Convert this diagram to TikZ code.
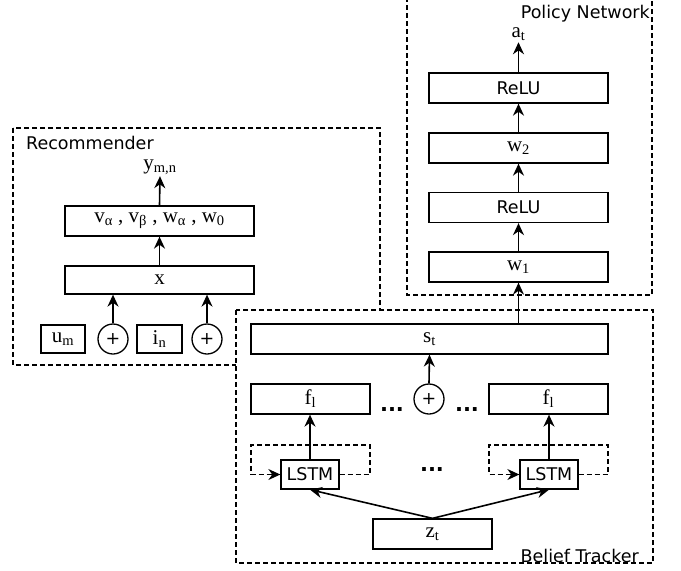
\documentclass[tikz,border=0pt]{standalone}
\usepackage{fontspec}
\setmainfont{DejaVu Sans}
\newfontfamily\sr{Liberation Serif}
\usetikzlibrary{arrows.meta}
\newcommand{\sz}{\fontsize{17.5}{20}\selectfont}
\newcommand{\ssz}{\fontsize{21}{24}\selectfont\sr}
\newcommand{\sbs}[1]{\textsubscript{\fontsize{14.5}{16}\selectfont #1}}
\begin{document}
\begin{tikzpicture}[x=1pt,y=-1pt,
  blk/.style={draw, line width=1.3pt, rectangle, inner sep=0pt, minimum height=30pt, font=\sz},
  circ/.style={draw, line width=1.3pt, circle, inner sep=0pt, minimum size=30pt, font=\sz},
  cont/.style={draw, dashed, dash pattern=on 5pt off 3pt, line width=1.1pt},
  arr/.style={line width=1.6pt, -{Stealth[length=12pt,width=11pt]}},
  lbl/.style={inner sep=1.5pt, font=\ssz},
  ttl/.style={inner sep=0pt, font=\sz},
  dots/.style={inner sep=0pt, font=\fontsize{21}{24}\selectfont\bfseries}]
\useasboundingbox (0,0) rectangle (681,571);
% ---- Policy Network
\draw[cont] (407,-3) rectangle (652,295);
\node[ttl, anchor=base east] (pnl) at (650,18) {Policy Network};
\node[blk, minimum width=179pt] (relu2) at (518.5,88) {ReLU};
\node[blk, minimum width=179pt, font=\ssz] (w2) at (518.5,148) {w\sbs{2}};
\node[blk, minimum width=179pt] (relu1) at (518.5,207.5) {ReLU};
\node[blk, minimum width=179pt, font=\ssz] (w1) at (518.5,267) {w\sbs{1}};
\node[lbl] (at) at (518.5,34) {a\sbs{t}};
\draw[arr] (relu2.north) -- (at.south);
\draw[arr] (w2.north) -- (relu2.south);
\draw[arr] (relu1.north) -- (w2.south);
\draw[arr] (w1.north) -- (relu1.south);
% ---- Recommender
\draw[cont] (13,128) rectangle (380,365);
\node[ttl, anchor=base west] (rl) at (26,149) {Recommender};
\node[blk, minimum width=189pt, font=\ssz] (v) at (159.5,221) {v\sbs{α} , v\sbs{β} , w\sbs{α} , w\sbs{0}};
\node[blk, minimum width=189pt, minimum height=28pt, font=\ssz] (x) at (159.5,280) {x};
\node[lbl] (ymn) at (160,167) {y\sbs{m,n}};
\draw[arr] (v.north) -- (ymn.south);
\draw[arr] (x.north) -- (v.south);
\node[blk, minimum width=44pt, minimum height=28pt, font=\ssz] (um) at (63,339) {u\sbs{m}};
\node[circ] (c1) at (113,339) {+};
\node[blk, minimum width=45pt, minimum height=28pt, font=\ssz] (in) at (159.5,339) {i\sbs{n}};
\node[circ] (c2) at (207,339) {+};
\draw[arr] (c1.north) -- (c1.north |- x.south);
\draw[arr] (c2.north) -- (c2.north |- x.south);
% ---- Belief Tracker
\draw[cont, fill=white] (236,310) rectangle (653,563);
\node[ttl, anchor=base east] (btl) at (639,562) {Belief Tracker};
\node[blk, minimum width=357pt, font=\ssz] (st) at (429.5,339) {s\sbs{t}};
\draw[arr] (st.north -| w1.south) -- (w1.south);
\node[blk, minimum width=119pt, font=\ssz] (fl1) at (310.5,399) {f\sbs{l}};
\node[blk, minimum width=119pt, font=\ssz] (fl2) at (548.5,399) {f\sbs{l}};
\node[circ] (plus) at (429,399) {+};
\draw[arr] (plus.north) -- (st.south);
\node[dots] (d1) at (392,410) {...};
\node[dots] (d2) at (467,410) {...};
\node[dots] (d3) at (432,470) {...};
\node[blk, minimum width=58pt, minimum height=29pt] (lstm1) at (310,474.5) {LSTM};
\node[blk, minimum width=58pt, minimum height=29pt] (lstm2) at (549,474.5) {LSTM};
\node[blk, minimum width=119pt, font=\ssz] (zt) at (432.5,534) {z\sbs{t}};
\draw[arr] (lstm1.north) -- (lstm1.north |- fl1.south);
\draw[arr] (lstm2.north) -- (lstm2.north |- fl2.south);
\draw[cont, -{Stealth[length=12pt,width=11pt]}] (lstm1.east) -- (370,474.5) -- (370,445) -- (251,445) -- (251,474.5) -- (lstm1.west);
\draw[cont, -{Stealth[length=12pt,width=11pt]}] (lstm2.east) -- (608,474.5) -- (608,445) -- (489,445) -- (489,474.5) -- (lstm2.west);
\draw[arr] (zt.north) -- (lstm1.south);
\draw[arr] (zt.north) -- (lstm2.south);
\end{tikzpicture}
\end{document}
